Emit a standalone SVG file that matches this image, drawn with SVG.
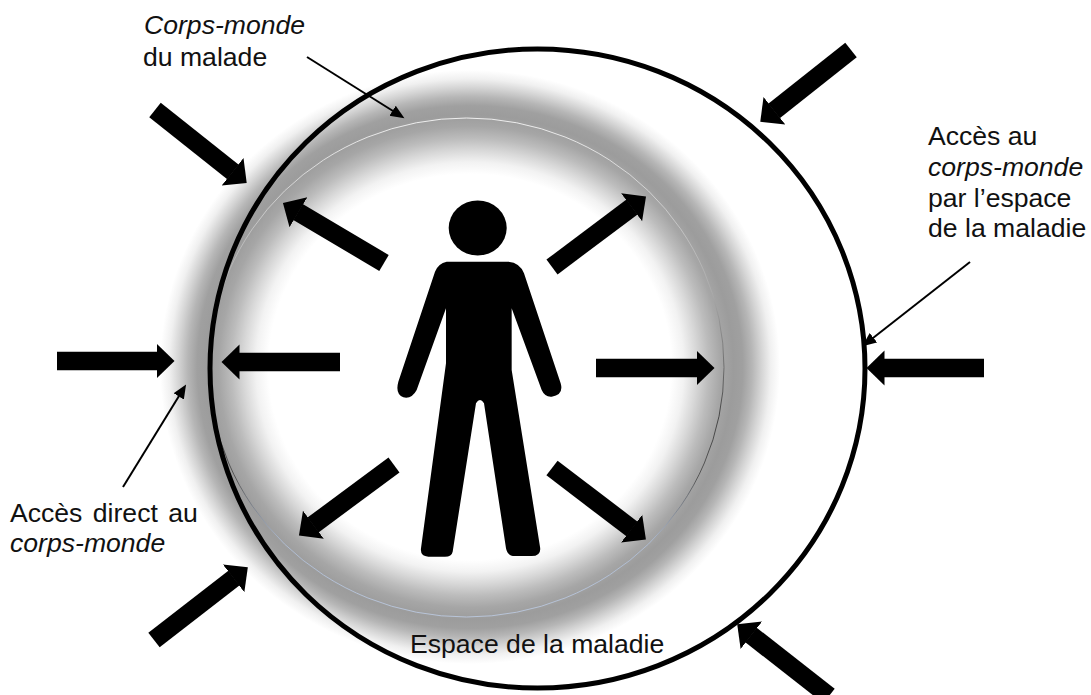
<svg xmlns="http://www.w3.org/2000/svg" width="1091" height="695" viewBox="0 0 1091 695">
<style>
text{font-family:"Liberation Sans",Arial,sans-serif;font-size:26.6px;fill:#111}
.i{font-style:italic}
.big{stroke:#000;stroke-width:18.5;fill:none;marker-end:url(#bigHead)}
.thin{stroke:#000;stroke-width:2;fill:none;marker-end:url(#thinHead)}
</style>
<defs>
<marker id="bigHead" markerUnits="userSpaceOnUse" markerWidth="20" markerHeight="38" refX="0.5" refY="19" orient="auto"><path d="M0,1.5L18,19L0,36.5Z" fill="#000"/></marker>
<marker id="thinHead" markerUnits="userSpaceOnUse" markerWidth="16" markerHeight="14" refX="0.5" refY="7" orient="auto"><path d="M0,1L14,7L0,13Z" fill="#000"/></marker>
<radialGradient id="halo">
<stop offset=".65" stop-color="#fff"/><stop offset=".69" stop-color="#f2f2f2"/><stop offset=".73" stop-color="#d8d8d8"/><stop offset=".77" stop-color="#bcbcbc"/><stop offset=".81" stop-color="#a6a6a6"/><stop offset=".85" stop-color="#9c9c9c"/><stop offset=".88" stop-color="#a0a0a0"/><stop offset=".91" stop-color="#b6b6b6"/><stop offset=".94" stop-color="#d4d4d4"/><stop offset=".97" stop-color="#f0f0f0"/><stop offset="1" stop-color="#fff"/>
</radialGradient>
<linearGradient id="rim" x1="0" y1="0" x2="0" y2="1"><stop offset="0" stop-color="#eee"/><stop offset=".35" stop-color="#aaa"/><stop offset=".6" stop-color="#444"/><stop offset=".72" stop-color="#555"/><stop offset=".85" stop-color="#aebbd0"/><stop offset="1" stop-color="#b8c4d8"/></linearGradient>
</defs>
<rect width="1091" height="695" fill="#fff"/>
<g id="corps-monde">
<ellipse cx="470" cy="367" rx="310" ry="297" fill="url(#halo)"/>
<ellipse cx="466.5" cy="367.5" rx="257.5" ry="249.5" fill="none" stroke="url(#rim)" stroke-width="1"/>
</g>
<g id="espace-maladie"><ellipse cx="537.5" cy="368.5" rx="327.5" ry="319.5" fill="none" stroke="#000" stroke-width="5"/></g>
<g id="personne" fill="#000">
<ellipse cx="477.7" cy="228" rx="29" ry="27.5"/>
<path transform="translate(380 190) scale(.33333)" d="M200,215L385,215Q420,218 432,250L542,580Q552,615 515,620Q495,622 485,600L395,355L395,540L480,1070Q485,1098 455,1098L405,1098Q382,1098 378,1075L312,640Q300,620 288,640L218,1085Q215,1100 195,1100L145,1100Q120,1098 123,1075L198,520L198,355L110,600Q95,628 70,622Q45,612 55,575L165,245Q175,220 200,215Z"/>
</g>
<g id="connecteurs">
<line class="big" x1="851" y1="50" x2="774" y2="111"/>
<line class="big" x1="984" y1="368" x2="884" y2="368"/>
<line class="big" x1="829" y1="696" x2="751" y2="635"/>
<line class="big" x1="155" y1="110" x2="233" y2="172"/>
<line class="big" x1="57" y1="361" x2="157" y2="361"/>
<line class="big" x1="154" y1="640" x2="234" y2="578"/>
<line class="big" x1="384" y1="263" x2="298" y2="212"/>
<line class="big" x1="340" y1="362" x2="239" y2="362"/>
<line class="big" x1="394" y1="465" x2="313" y2="525"/>
<line class="big" x1="552" y1="267" x2="632" y2="207"/>
<line class="big" x1="596" y1="368" x2="697" y2="368"/>
<line class="big" x1="552" y1="468" x2="632" y2="529"/>
<line class="thin" x1="307" y1="57" x2="393" y2="111"/>
<line class="thin" x1="970" y1="262" x2="873" y2="338"/>
<line class="thin" x1="123" y1="487" x2="179" y2="396"/>
</g>
<g id="labels">
<text class="i" x="144" y="34">Corps-monde</text>
<text x="143" y="65.5">du malade</text>
<text x="928" y="145">Accès au</text>
<text class="i" x="928" y="175.7">corps-monde</text>
<text x="928" y="206.5">par l’espace</text>
<text x="928" y="237.3">de la maladie</text>
<text x="10" y="522" word-spacing="3">Accès direct au</text>
<text class="i" x="10" y="552">corps-monde</text>
<text x="410" y="653">Espace de la maladie</text>
</g>
</svg>
